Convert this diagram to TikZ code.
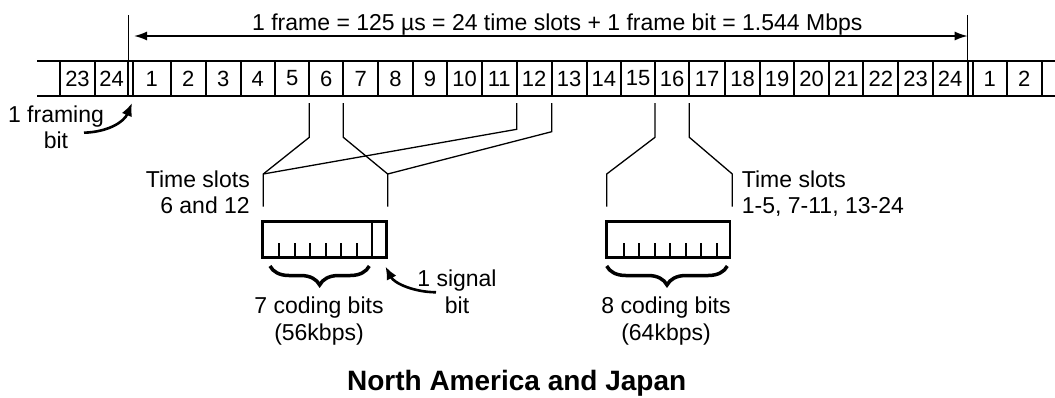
\documentclass[tikz,border=0pt]{standalone}
\usepackage{fontspec}
\setmainfont{Liberation Sans}
\usetikzlibrary{arrows.meta,decorations.pathreplacing}
\begin{document}
\begin{tikzpicture}[x=1pt,y=-1pt,
  lbl/.style={font=\fontsize{23}{27}\selectfont, inner sep=0pt},
  cell/.style={draw, line width=2.2pt, minimum height=35pt, inner sep=0pt, outer sep=0pt, font=\fontsize{22}{26}\selectfont},
  strip/.style={line width=2.6pt},
  marker/.style={line width=1pt},
  hang/.style={line width=1.3pt},
  bitbox/.style={draw, line width=2.8pt, inner sep=0pt, outer sep=0pt},
  tick/.style={line width=2.3pt},
  curlybrace/.style={decorate, decoration={brace, mirror, amplitude=19pt}, line width=3.5pt},
  curvearrow/.style={line width=2.6pt, -{Latex[length=13pt,width=11pt]}},
  span/.style={line width=1.6pt, {Latex[length=13pt,width=9pt]}-{Latex[length=13pt,width=9pt]}}
]
\useasboundingbox (0,0) rectangle (1055,397);

% strip long lines
\coordinate (stl) at (37,61);  \coordinate (str) at (1055,61);
\coordinate (sbl) at (37,96);  \coordinate (sbr) at (1055,96);
\draw[strip] (stl) -- (str);
\draw[strip] (sbl) -- (sbr);

% previous / next frame cells
\foreach \n/\t/\l/\r in {L23/23/60/95, L24/24/95/128.3, R1/1/972.7/1006.7, R2/2/1006.7/1041.7} {
  \pgfmathsetmacro\w{\r-\l}
  \pgfmathsetmacro\m{(\l+\r)/2}
  \node[cell, minimum width=\w pt] (\n) at (\m,78.5) {\t};
}
% frame cells
\foreach \i/\l/\r in {1/133/170.7, 2/170.7/205.7, 3/205.7/240.7, 4/240.7/275, 5/275/309.3,
  6/309.3/343.3, 7/343.3/378.3, 8/378.3/412.7, 9/412.7/447.3, 10/447.3/481.7,
  11/481.7/516.7, 12/516.7/551.7, 13/551.7/586.7, 14/586.7/621, 15/621/655,
  16/655/689.3, 17/689.3/725, 18/725/760, 19/760/794, 20/794/829.3,
  21/829.3/863.3, 22/863.3/898.3, 23/898.3/932.7, 24/932.7/967.7} {
  \pgfmathsetmacro\w{\r-\l}
  \pgfmathsetmacro\m{(\l+\r)/2}
  \node[cell, minimum width=\w pt] (c\i) at (\m,78.5) {\i};
}

% frame markers and span arrow
\coordinate (fl) at (128.3,15);
\coordinate (fr) at (967.7,15);
\draw[marker] (fl) -- (fl |- L24.north);
\draw[marker] (fr) -- (fr |- c24.north);
\coordinate (al) at (134,36);
\coordinate (ar) at (967.7,36);
\draw[span] (al) -- (ar);
\node[lbl, anchor=base] (framelbl) at (557.3,30) {1 frame = 125 µs = 24 time slots + 1 frame bit = 1.544 Mbps};

% framing bit label
\node[lbl, anchor=base] (fb1) at (56,122.3) {1 framing};
\node[lbl, anchor=base] (fb2) at (56,148.3) {bit};
\coordinate (fbs) at (84,132.7);
\coordinate (fbe) at (132,103);
\draw[curvearrow] (fbs) .. controls (108,132) and (124,122) .. (fbe);

% boxes
\node[bitbox, minimum width=124.4pt, minimum height=35.6pt] (boxA) at (324.5,239.5) {};
\node[bitbox, minimum width=123.3pt, minimum height=35.6pt] (boxB) at (668.35,239.5) {};
\foreach \x in {279.3,295,310.3,326,341,356.7}
  \draw[tick] (\x,243.3) -- (\x,257.3);
\draw[tick] (371.7,223) -- (371.7,257.3);
\foreach \x in {624.3,639.3,655,670.3,686,701,716.7}
  \draw[tick] (\x,243.3) -- (\x,257.3);

% hanging connectors, slots 6 and 12
\coordinate (a1) at (263.3,174); \coordinate (a1e) at (263.3,206.7);
\coordinate (a2) at (387.7,174); \coordinate (a2e) at (387.7,206.7);
\draw[hang] ([yshift=-7pt]c6.south west) -- ++(0,34.3) -- (a1) -- (a1e);
\draw[hang] ([yshift=-7pt]c7.south west) -- ++(0,34.3) -- (a2) -- (a2e);
\draw[hang] ([yshift=-7pt]c12.south west) -- ++(0,26.3) -- (a1);
\draw[hang] ([yshift=-7pt]c13.south west) -- ++(0,28.7) -- (a2);

% hanging connectors, slot 16
\coordinate (b1) at (606.7,174); \coordinate (b1e) at (606.7,206.7);
\coordinate (b2) at (732.3,174); \coordinate (b2e) at (732.3,206.7);
\draw[hang] ([yshift=-7pt]c16.south west) -- ++(0,34.3) -- (b1) -- (b1e);
\draw[hang] ([yshift=-7pt]c17.south west) -- ++(0,34.3) -- (b2) -- (b2e);

% slot labels
\node[lbl, anchor=base east] (tsA1) at (250,187) {Time slots};
\node[lbl, anchor=base east] (tsA2) at (250,213) {6 and 12};
\node[lbl, anchor=base west] (tsB1) at (741.7,187) {Time slots};
\node[lbl, anchor=base west] (tsB2) at (741.7,213) {1-5, 7-11, 13-24};

% braces
\coordinate (brA1) at (270,266); \coordinate (brA2) at (369.3,266);
\coordinate (brB1) at (606.7,266); \coordinate (brB2) at (727.3,266);
\draw[curlybrace] (brA1) -- (brA2);
\draw[curlybrace] (brB1) -- (brB2);

% bit labels
\node[lbl, anchor=base] (cbA1) at (319,313.3) {7 coding bits};
\node[lbl, anchor=base] (cbA2) at (319,340.5) {(56kbps)};
\node[lbl, anchor=base] (cbB1) at (666,313.3) {8 coding bits};
\node[lbl, anchor=base] (cbB2) at (666,340.5) {(64kbps)};

% signal bit label
\node[lbl, anchor=base] (sb1) at (457,286.7) {1 signal};
\node[lbl, anchor=base] (sb2) at (457,313.3) {bit};
\coordinate (sbs) at (436,292.3);
\coordinate (sbe) at (385.5,266.5);
\draw[curvearrow] (sbs) .. controls (413,292) and (394,283) .. (sbe);

% title
\node[font=\bfseries\fontsize{28}{32}\selectfont, inner sep=0pt, anchor=base] (title) at (516.7,390) {North America and Japan};
\end{tikzpicture}
\end{document}
